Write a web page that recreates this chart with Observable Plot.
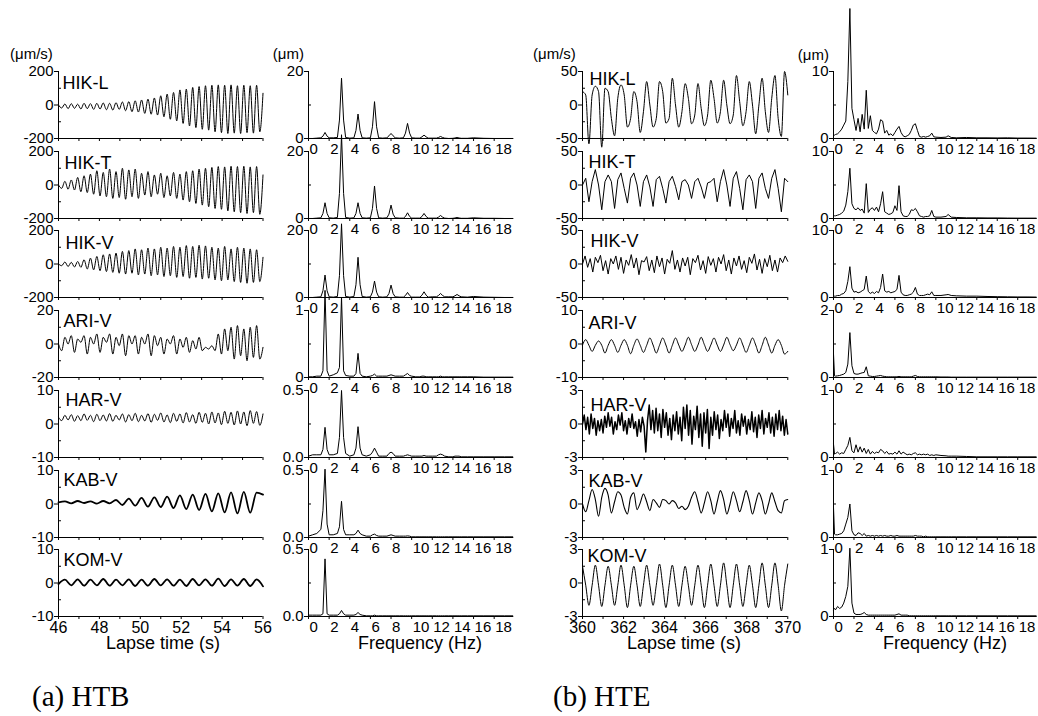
<!DOCTYPE html>
<html><head><meta charset="utf-8">
<script src="https://cdn.jsdelivr.net/npm/d3@7"></script>
<script src="https://cdn.jsdelivr.net/npm/@observablehq/plot@0.6"></script>
<style>
body{margin:0;background:#fff;}
#fig{position:relative;width:1038px;height:716px;background:#fff;overflow:hidden;color:#000;font-family:"Liberation Sans",Arial,Helvetica,sans-serif}
#fig .t{position:absolute;white-space:nowrap;line-height:1}
</style></head>
<body><div id="fig"></div>
<script>
// ---------------- DATA ----------------
const stations = ["HIK-L","HIK-T","HIK-V","ARI-V","HAR-V","KAB-V","KOM-V"];

const htbTimeDomain = [46, 56];
const hteTimeDomain = [360, 370];
const htbTimeTicks = [46,47,48,49,50,51,52,53,54,55,56];
const htbTimeLabels = [46,48,50,52,54,56];
const hteTimeTicks = [360,361,362,363,364,365,366,367,368,369,370];
const hteTimeLabels = [360,362,364,366,368,370];
const freqDomain = [0, 19.9];
const freqTicks = [0,2,4,6,8,10,12,14,16,18];

// waveform y ranges and tick labels
const htbWaveRange = [[-200,200],[-200,200],[-200,200],[-20,20],[-10,10],[-10,10],[-10,10]];
const htbWaveTickLabels = [["200","0","-200"],["200","0","-200"],["200","0","-200"],["20","0","-20"],["10","0","-10"],["10","0","-10"],["10","0","-10"]];
const hteWaveRange = [[-50,50],[-50,50],[-50,50],[-10,10],[-3,3],[-3,3],[-3,3]];
const hteWaveTickLabels = [["50","0","-50"],["50","0","-50"],["50","0","-50"],["10","0","-10"],["3","0","-3"],["3","0","-3"],["3","0","-3"]];
// spectrum y tops and tick labels
const htbSpecTop = [20,20,20,1,0.5,0.5,0.5];
const htbSpecTickLabels = [["20","0"],["20","0"],["20","0"],["1","0"],["0.5","0.0"],["0.5","0.0"],["0.5","0.0"]];
const hteSpecTop = [10,10,10,2,1,1,1];
const hteSpecTickLabels = [["10","0"],["10","0"],["10","0"],["2","0"],["1","0"],["1","0"],["1","0"]];

// ---- HTB waveforms (µm/s), evenly sampled over 46–56 s ----
const htbWaveHIKL = [0,-18,6,-22,8,-20,5,-24,10,-22, 8,-26,10,-24,12,-28,10,-30,14,-26, 18,-34,20,-40,25,-42,30,-50,35,-55, 42,-60,55,-70,65,-85,75,-95,90,-110, 95,-125,105,-135,110,-145,115,-150,118,-160, 120,-165,118,-170,120,-168,115,-170,118,-165, 115,-168,118,-160,70];
const htbWaveHIKT = [0,-20,22,-25,30,-30,45,-40,55,-45, 65,-55,85,-65,75,-70,95,-80,80,-75, 100,-85,90,-70,95,-80,70,-60,80,-70, 60,-55,70,-75,55,-65,75,-80,65,-90, 80,-100,85,-110,95,-120,100,-130,105,-140, 110,-145,108,-155,112,-160,110,-165,112,-170, 108,-165,110,-175,60];
const htbWaveHIKV = [0,-10,12,-15,10,-18,15,-20,25,-30, 35,-35,45,-40,55,-45,60,-50,65,-55, 75,-60,80,-55,90,-65,85,-60,95,-70, 90,-65,100,-75,95,-70,105,-80,100,-75, 110,-85,105,-80,112,-90,108,-85,100,-95, 95,-100,105,-95,90,-105,100,-110,95,-115, 90,-110,85,-105,40];
const htbWaveARIV = [0,-4,4,0,5,-5,3,1,5,-6, 4,0,6,-5,4,1,6,-6,4,-1, 6,-7,5,0,5,-6,4,0,6,-7, 5,-1,4,-6,3,0,5,-6,3,-2, 4,-5,2,-3,4,-4,-2,-3,-1,-4, 6,-6,9,-4,10,-9,11,-7,9,-10, 10,-8,11,-9,-2];
const htbWaveHARV = [2,1,2.6,1.2,2.8,0.8,2.5,1.0,3.0,1.1, 2.6,0.7,2.9,1.0,2.7,0.9,3.1,0.8,2.6,1.2, 3.0,0.6,2.8,1.0,3.2,0.7,2.6,0.9,3.1,0.5, 2.9,1.1,3.3,0.6,2.7,0.4,3.2,0.8,3.0,0.3, 3.4,0.6,2.8,0.2,3.5,0.5,3.2,0.0,3.6,0.3, 3.3,-0.2,3.8,0.2,3.5,-0.3,3.9,0.0,3.6,-0.5, 4.0,0.2,3.7,-0.4,3.0];
const htbWaveKABV = [0.5,0.8,0.2,0.9,0.3,0.8,0.1,0.9,0.2,1.2, -0.3,1.6,-0.5,1.8,-0.8,2.0,-0.9,2.2,-1.2,2.6, -1.5,2.8,-1.8,3.0,-2.2,3.2,-2.5,3.5,-2.8,3.6, -2.6,3.4,2.8];
const htbWaveKOMV = [-0.3,1.0,-0.7,1.1,-0.8,1.0,-0.7,1.2,-0.8,1.0, -0.7,1.1,-0.9,1.0,-0.8,1.2,-0.7,1.1,-0.8,1.0, -0.9,1.2,-0.7,1.1,-0.8,1.3,-0.9,1.1,-0.8,1.2, -0.9,1.1,-1.0];

// ---- HTE waveforms (µm/s), evenly sampled over 360–370 s ----
const hteWaveHIKL = [20,15,-58,15,28,20,-63,25,20,-20, -46,10,30,15,-33,-20,20,5,-41,-10, 35,0,-33,-20,35,20,-27,-20,40,0, -33,-10,32,10,-28,-15,32,-5,-31,-15, 37,10,-27,-10,37,0,-28,-15,44,5, -31,-10,35,0,-43,0,40,-10,-41,10, 44,-20,-47,50,15];
const hteWaveHIKT = [0,10,-25,5,23,0,-37,5,15,5, -35,8,18,-5,-27,10,18,0,-32,5, 15,-3,-32,8,13,-5,-27,5,13,-2, -22,5,8,0,-20,5,10,-3,-20,3, 5,10,-25,5,23,0,-32,10,20,-5, -37,8,15,5,-35,10,18,-5,-20,10, 23,-5,-40,10,5];
const hteWaveHIKV = [0,12,-5,8,-12,10,2,13,-10,5, -15,8,0,12,-8,10,-14,6,-2,14, -6,9,-16,5,3,11,-10,6,-13,12, -4,9,-15,7,1,20,-8,6,-12,9, -3,10,-16,8,2,13,-9,5,-14,11, -2,8,-12,10,0,14,-10,6,-15,9, -3,12,-8,5,-13,10,1,15,-9,7, -14,8,-4,13,-10,6,-12,9,2,12, 4];
const hteWaveARIV = [-0.3, 1.3,-0.4,-2.2,-0.4, 0.9,-0.4,-2.7,-0.4, 1.3,-0.4,-2.5,-0.4, 1.3,-0.4,-2.9,-0.4, 1.5,-0.4,-2.5,-0.4, 1.8,-0.3,-2.7,-0.4, 1.8,-0.3,-2.7,-0.4, 1.8,-0.3,-2.2,-0.3, 2.0,-0.2,-2.2,-0.3, 2.0,-0.2,-2.2,-0.3, 1.8,-0.3,-2.2,-0.3, 2.0,-0.2,-2.0,-0.3, 1.8,-0.3,-2.5,-0.4, 1.8,-0.3,-2.7,-0.4, 2.0,-0.3,-2.7,-0.4, 1.3,-0.4,-3.0,-2.2];
const hteWaveHARV = [0,0.8,-0.5,0.6,-0.9,0.9,-0.4,0.5,-1.0,0.3,-0.6,0.4,-0.8, 0.7,-0.3,1.0,-0.2,0.6,-0.9,0.2,-0.5,0.8,-0.1,1.0,-0.6, 0.3,-0.9,0.5,-0.3,0.9,-0.4,0.2,-1.1,0.4,-0.7,0.6,-0.2, -2.5,0.3,1.7,-0.5,1.2,-0.8,1.4,-0.6,0.9,-1.2,1.3,-0.3, 1.0,-1.0,0.5,-1.4,0.8,-0.6,1.1,-0.9,0.6,-1.5,1.5,-0.4, 1.7,-1.0,1.2,-1.8,0.7,-0.5,1.6,-1.2,0.9,-2.0,1.0,-0.8, 1.3,-2.2,0.6,-1.0,1.1,-0.5,0.8,-1.3,0.4,-0.6,1.2,-0.3, 0.9,-1.1,0.5,-0.4,1.2,-0.8,0.3,-1.0,0.9,-0.2,0.7,-0.9, 0.4,-0.5,1.1,-0.7,0.6,-1.2,0.8,-0.4,1.2,-0.9,0.5,-0.3, 1.0,-0.8,0.6,-1.1,0.9,-0.5,1.2,-0.6,0.7,-1.0,0.4,-0.9];
const hteWaveKABV = [0,-0.7,0.3,1.3,0.4,-1.1,0.6,1.4,0.8,-0.8, 0.2,1.1,0.8,-0.3,-0.9,0.6,1.0,-0.5,0.1,0.9, 0.2,-0.6,0.4,0.1,-0.3,0.4,0.3,0.0,0.3,0.1, -0.4,-0.2,-0.5,-0.2,0.6,1.1,0.2,-0.8,0.1,1.1, 0.3,-0.9,0.2,1.2,0.4,-0.9,0.0,1.1,0.3,-0.7, 0.2,1.2,0.3,-0.9,0.1,1.0,0.3,-0.9,0.0,1.0, 0.2,-0.6,-0.8,0.3,0.4];
const hteWaveKOMV = [1.5,-0.2,-2.0,-0.2, 1.6,-0.2,-2.1,-0.2, 1.5,-0.2,-2.0,-0.2, 1.6,-0.2,-2.2,-0.2, 1.5,-0.2,-2.1,-0.2, 1.6,-0.2,-2.0,-0.2, 1.7,-0.2,-2.2,-0.2, 1.6,-0.2,-2.1,-0.2, 1.5,-0.2,-2.0,-0.2, 1.6,-0.2,-2.2,-0.2, 1.7,-0.2,-2.1,-0.2, 1.8,-0.2,-2.2,-0.2, 1.7,-0.2,-2.1,-0.2, 1.6,-0.2,-2.2,-0.2, 1.8,-0.2,-2.2,-0.2, 1.8,-0.2,-2.5,-0.2, 1.7];

// ---- HTB spectra (µm) ----
const htbFreq = [0,0.4,0.8, 1.2,1.4,1.6,1.8,2.0, 2.4, 2.8,3.0,3.2,3.4,3.6, 4.0, 4.4,4.6,4.8,5.0,5.2, 5.6, 6.0,6.2,6.4,6.6,6.8, 7.2, 7.6,7.8,8.0,8.2,8.4, 8.8, 9.2,9.4,9.6,9.8,10.0, 10.4, 10.8,11.0,11.2,11.4,11.6, 12.0, 12.4,12.6,12.8,13.0,13.2, 13.6, 14.0,14.2,14.4,14.6,14.8, 15.4,16.0,17.0,18.0,19.0,19.8];
const htbSpecHIKL = [0,0,0.1, 0.2,0.7,1.8,0.7,0.2, 0.2, 0.3,5.5,18,5.5,0.3, 0.1, 0.2,2.4,7.3,2.4,0.2, 0.1, 0.2,3.5,11,3.5,0.2, 0.1, 0.2,0.8,1.5,0.8,0.2, 0.1, 0.2,1.6,4.5,1.6,0.2, 0.1, 0.1,0.5,1.0,0.5,0.1, 0.1, 0.1,0.3,0.6,0.3,0.1, 0, 0.05,0.15,0.3,0.15,0.05, 0.05,0.2,0.05,0,0,0];
const htbSpecHIKT = [0,0,0.1, 0.2,1.5,4.7,1.5,0.2, 0.1, 0.3,7.5,25,7.5,0.3, 0.1, 0.2,1.5,4.7,1.5,0.2, 0.1, 0.2,3.0,9.7,3.0,0.2, 0.1, 0.2,1.3,4.0,1.3,0.2, 0.1, 0.1,0.6,1.7,0.6,0.1, 0.1, 0.1,0.6,1.5,0.6,0.1, 0.1, 0.1,0.4,0.9,0.4,0.1, 0, 0.05,0.15,0.3,0.15,0.05, 0.05,0.2,0.05,0.05,0,0];
const htbSpecHIKV = [0,0,0.1, 0.2,2.0,6.7,2.0,0.2, 0.1, 0.3,6.5,22,6.5,0.3, 0.1, 0.3,3.8,12,3.8,0.3, 0.1, 0.2,1.6,4.9,1.6,0.2, 0.1, 0.2,1.2,3.7,1.2,0.2, 0.1, 0.1,0.6,1.5,0.6,0.1, 0.1, 0.1,0.7,1.7,0.7,0.1, 0.2, 0.2,0.6,1.2,0.6,0.2, 0.2, 0.2,0.5,0.9,0.5,0.2, 0.1,0.3,0.1,0.05,0,0];
const htbSpecARIV = [0.01,0.01,0.02, 0.02,0.1,1.3,0.1,0.02, 0.04, 0.07,0.15,1.2,0.1,0.03, 0.02, 0.02,0.06,0.36,0.06,0.02, 0.01, 0.02,0.03,0.05,0.02,0.02, 0.02, 0.02,0.03,0.04,0.03,0.02, 0.02, 0.02,0.04,0.06,0.03,0.02, 0.01, 0.01,0.02,0.02,0.01,0.01, 0.01, 0.01,0.01,0.02,0.01,0.01, 0.01, 0.01,0.01,0.01,0.01,0.01, 0.01,0.01,0.005,0.005,0.005,0.005];
const htbSpecHARV = [0.01,0.02,0.02, 0.02,0.06,0.225,0.06,0.02, 0.02, 0.03,0.15,0.5,0.15,0.03, 0.01, 0.02,0.07,0.23,0.07,0.02, 0.01, 0.02,0.04,0.07,0.04,0.01, 0.01, 0.01,0.03,0.04,0.03,0.01, 0.01, 0.01,0.015,0.02,0.015,0.01, 0.01, 0.01,0.01,0.015,0.01,0.01, 0.01, 0.01,0.02,0.025,0.02,0.01, 0.005, 0.005,0.01,0.01,0.01,0.005, 0.005,0.005,0.005,0.005,0.005,0.005];
const htbSpecKABV = [0.01,0.02,0.03, 0.06,0.2,0.51,0.1,0.02, 0.02, 0.03,0.08,0.27,0.06,0.02, 0.02, 0.02,0.03,0.055,0.03,0.02, 0.01, 0.01,0.02,0.025,0.015,0.01, 0.01, 0.01,0.015,0.02,0.015,0.01, 0.01, 0.01,0.01,0.012,0.01,0.005, 0.005, 0.005,0.005,0.005,0.005,0.005, 0.005, 0.005,0.005,0.005,0.005,0.005, 0.005, 0.005,0.005,0.005,0.005,0.005, 0.005,0.005,0.005,0.005,0.005,0.005];
const htbSpecKOMV = [0.01,0.01,0.01, 0.01,0.02,0.43,0.02,0.01, 0.01, 0.01,0.02,0.045,0.02,0.01, 0.01, 0.01,0.015,0.03,0.015,0.01, 0.005, 0.005,0.005,0.01,0.005,0.005, 0.005, 0.005,0.005,0.005,0.005,0.005, 0.005, 0.005,0.005,0.005,0.005,0.005, 0.005, 0.005,0.005,0.005,0.005,0.005, 0.005, 0.005,0.005,0.005,0.005,0.005, 0.005, 0.005,0.005,0.005,0.005,0.005, 0.005,0.005,0.005,0.005,0.005,0.005];

// ---- HTE spectra (µm) ----
const hteFreq = [0,0.1,0.2,0.4,0.6,0.8,1.0,1.2,1.4,1.6,1.8,2.0,2.2,2.4,2.6,2.8,3.0,3.2,3.4,3.6,3.8,4.0,4.2,4.4,4.6,4.8,5.0,5.2,5.4,5.6,5.8,6.0,6.2,6.4,6.6,6.8,7.0,7.2,7.4,7.6,7.8,8.0,8.2,8.4,8.6,8.8,9.0,9.2,9.4,9.6,9.8,10.0,10.5,11.0,11.2,11.5,12,13,14,15,16,17,18,19,19.8];
const hteSpecHIKL = [0.5,0.5,0.6,0.7,1.0,1.4,2.0,2.6,8.5,19.4, 4.5,2.8,1.2,3.0,1.0,3.6,1.4,7.2,1.5,3.4, 1.2,0.9,0.7,1.4,2.8,2.6,0.8,1.2,0.5,0.7, 0.4,0.9,1.4,1.8,0.9,0.4,0.25,0.4,0.6,1.2, 2.0,2.2,1.2,0.3,0.2,0.3,0.2,0.3,0.4,0.8, 0.25,0.2,0.15,0.2,0.4,0.15,0.1,0.15,0.1,0.1, 0.08,0.1,0.06,0.06,0.05];
const hteSpecHIKT = [0.4,0.4,0.4,0.5,0.6,0.8,1.1,2.0,4.0,7.5, 2.2,1.5,1.3,1.6,1.2,1.4,0.8,5.2,0.9,1.4, 1.6,1.2,1.7,1.0,2.2,4.0,1.0,0.8,0.6,0.7, 0.9,1.9,1.2,4.9,1.0,0.4,0.3,0.3,0.6,1.3, 1.2,1.5,1.0,0.4,0.3,0.2,0.3,0.3,0.4,1.2, 0.3,0.2,0.2,0.3,0.6,0.2,0.15,0.1,0.1,0.08, 0.08,0.06,0.05,0.05,0.05];
const hteSpecHIKV = [0.2,0.2,0.2,0.3,0.3,0.5,0.6,1.0,2.4,4.6, 1.4,0.8,0.9,0.7,0.8,1.0,1.2,3.2,0.9,0.6, 0.8,0.6,0.9,0.7,1.5,3.5,1.0,0.8,0.9,0.7, 0.8,0.9,1.2,3.3,0.8,0.4,0.3,0.3,0.4,0.5, 0.8,1.5,0.5,0.3,0.3,0.3,0.4,0.5,0.4,0.85, 0.3,0.3,0.3,0.4,0.45,0.3,0.25,0.2,0.2,0.15, 0.12,0.1,0.08,0.08,0.06];
const hteSpecARIV = [0.7,0.05,0.04,0.05,0.06,0.08,0.1,0.15,0.4,1.34, 0.35,0.12,0.1,0.1,0.12,0.14,0.15,0.32,0.05,0.04, 0.03,0.03,0.04,0.05,0.06,0.04,0.03,0.02,0.02,0.02, 0.02,0.02,0.02,0.03,0.02,0.02,0.02,0.02,0.02,0.02, 0.04,0.06,0.03,0.02,0.02,0.02,0.02,0.02,0.02,0.02, 0.02,0.02,0.015,0.015,0.015,0.01,0.01,0.01,0.01,0.01, 0.01,0.01,0.01,0.01,0.01];
const hteSpecHARV = [0.2,0.05,0.06,0.08,0.05,0.07,0.06,0.12,0.18,0.3, 0.1,0.07,0.19,0.08,0.16,0.08,0.14,0.06,0.12,0.05, 0.09,0.06,0.08,0.07,0.12,0.1,0.06,0.09,0.05,0.06, 0.05,0.08,0.05,0.1,0.05,0.08,0.06,0.04,0.05,0.04, 0.06,0.07,0.04,0.05,0.04,0.05,0.04,0.05,0.03,0.04, 0.03,0.04,0.03,0.025,0.02,0.02,0.02,0.015,0.01,0.01, 0.01,0.01,0.01,0.01,0.01];
const hteSpecKABV = [0.45,0.05,0.04,0.04,0.05,0.06,0.1,0.2,0.3,0.5, 0.1,0.04,0.03,0.07,0.06,0.03,0.06,0.02,0.03,0.02, 0.03,0.02,0.03,0.02,0.03,0.02,0.03,0.02,0.02,0.03, 0.02,0.02,0.03,0.02,0.02,0.02,0.02,0.02,0.02,0.02, 0.02,0.03,0.02,0.02,0.02,0.01,0.02,0.01,0.01,0.01, 0.01,0.01,0.01,0.01,0.01,0.01,0.01,0.01,0.01,0.01, 0.01,0.01,0.01,0.01,0.01];
const hteSpecKOMV = [0.1,0.12,0.1,0.15,0.12,0.14,0.2,0.3,0.45,1.02, 0.2,0.05,0.03,0.03,0.03,0.04,0.06,0.03,0.02,0.02, 0.02,0.02,0.02,0.02,0.02,0.02,0.02,0.02,0.02,0.02, 0.02,0.02,0.03,0.04,0.02,0.02,0.02,0.02,0.01,0.01, 0.01,0.01,0.01,0.01,0.01,0.01,0.01,0.01,0.01,0.01, 0.01,0.01,0.01,0.01,0.01,0.01,0.01,0.01,0.01,0.01, 0.01,0.01,0.01,0.01,0.01];

const htbWaves = [htbWaveHIKL, htbWaveHIKT, htbWaveHIKV, htbWaveARIV, htbWaveHARV, htbWaveKABV, htbWaveKOMV];
const hteWaves = [hteWaveHIKL, hteWaveHIKT, hteWaveHIKV, hteWaveARIV, hteWaveHARV, hteWaveKABV, hteWaveKOMV];
const htbSpecs = [htbSpecHIKL, htbSpecHIKT, htbSpecHIKV, htbSpecARIV, htbSpecHARV, htbSpecKABV, htbSpecKOMV];
const hteSpecs = [hteSpecHIKL, hteSpecHIKT, hteSpecHIKV, hteSpecARIV, hteSpecHARV, hteSpecKABV, hteSpecKOMV];

// ---------------- LAYOUT / STYLE ----------------
const rowBottom = [138, 217.7, 297.4, 377.1, 456.8, 536.5, 616.2];
const plotH = 67;
const cols = [{l:57.5, r:262}, {l:307.7, r:513}, {l:581.7, r:787}, {l:833.3, r:1037}];
const htbLabelOff = [[4,5],[6,5],[7,6],[5,4],[7,3],[5,3],[5,4]];
const hteLabelOff = [[7,1],[6,4],[8,4],[6,6],[8,8],[6,4],[5,0]];
const htbWaveSW = [1,1,1,1,1,1.8,1.8];
const hteWaveSW = [1,1,1,1,1.5,1.1,1];
const htbWaveCurve = ["monotone-x","monotone-x","monotone-x","monotone-x","monotone-x","monotone-x","monotone-x"];
const hteWaveCurve = ["monotone-x","linear","linear","monotone-x","linear","monotone-x","monotone-x"];
const FONT = '"Liberation Sans", Arial, Helvetica, sans-serif';
const ML = 46, MR = 6, MT = 6, MB = 26;
const fig = document.getElementById("fig");

function addPanel(o) {
  const w = o.right - o.left, h = o.bottom - o.top;
  const [x0, x1] = o.xDomain, [y0, y1] = o.yDomain;
  const px = (x1 - x0) / w;
  const yMap = new Map(o.yTicks.map((v, i) => [v, o.yTickLabels[i]]));
  const marks = [
    Plot.ruleX([x0], {stroke: "#000", strokeWidth: 1}),
    Plot.ruleY([y0], {stroke: "#000", strokeWidth: 1}),
    Plot.axisY({ticks: o.yTicks, tickSize: 4, tickPadding: 1, tickFormat: d => yMap.get(d), fontSize: 15, label: null}),
    Plot.ruleY(o.yMinor, {x1: () => x0, x2: () => x0 + 3 * px, stroke: "#000"}),
    Plot.axisX({ticks: o.xTicks, tickSize: 3, tickFormat: () => "", label: null}),
    Plot.line(o.data, {x: "x", y: "y", stroke: "#000", strokeWidth: o.sw, curve: o.curve, strokeLinejoin: "round"}),
    Plot.text([o.label], {frameAnchor: "top-left", dx: o.ldx, dy: o.ldy, lineAnchor: "top", textAnchor: "start", fontSize: 18, fill: "#000"})
  ];
  if (o.xLabels) {
    marks.push(Plot.text(o.xLabels, {x: d => d, y: () => y0, text: d => String(d), lineAnchor: "top", textAnchor: o.xAnchor, dx: o.xdx, dy: o.xdy, fontSize: o.xfs, fill: "#000"}));
  }
  const svg = Plot.plot({
    width: w + ML + MR, height: h + MT + MB,
    marginLeft: ML, marginRight: MR, marginTop: MT, marginBottom: MB,
    x: {domain: o.xDomain}, y: {domain: o.yDomain},
    style: {background: "transparent", overflow: "visible", fontFamily: FONT, fontSize: "15px", color: "#000", maxWidth: "none"},
    marks
  });
  svg.style.position = "absolute";
  svg.style.left = (o.left - ML) + "px";
  svg.style.top = (o.top - MT) + "px";
  fig.appendChild(svg);
}

function waveData(vals, dom) {
  const n = vals.length;
  return vals.map((v, i) => ({x: dom[0] + i * (dom[1] - dom[0]) / (n - 1), y: v}));
}
function specData(freqs, amps) {
  return freqs.map((f, i) => ({x: f, y: amps[i]}));
}

for (let k = 0; k < 7; k++) {
  const bottom = rowBottom[k], top = bottom - plotH;
  const last = k === 6;
  // HTB waveform
  let r = htbWaveRange[k];
  addPanel({left: cols[0].l, right: cols[0].r, top, bottom, xDomain: htbTimeDomain, yDomain: r,
    yTicks: [r[1], 0, r[0]], yTickLabels: htbWaveTickLabels[k], yMinor: [r[1] / 2, r[0] / 2],
    xTicks: htbTimeTicks, xLabels: last ? htbTimeLabels : null, xAnchor: "middle", xdx: 0, xdy: 5, xfs: 16,
    data: waveData(htbWaves[k], htbTimeDomain), sw: htbWaveSW[k], curve: htbWaveCurve[k],
    label: stations[k], ldx: htbLabelOff[k][0], ldy: htbLabelOff[k][1]});
  // HTB spectrum
  let t = htbSpecTop[k];
  addPanel({left: cols[1].l, right: cols[1].r, top, bottom, xDomain: freqDomain, yDomain: [0, t],
    yTicks: [t, 0], yTickLabels: htbSpecTickLabels[k], yMinor: [t / 2],
    xTicks: freqTicks, xLabels: freqTicks, xAnchor: "start", xdx: 1, xdy: 5, xfs: 15,
    data: specData(htbFreq, htbSpecs[k]), sw: 1, curve: "linear", label: "", ldx: 0, ldy: 0});
  // HTE waveform
  r = hteWaveRange[k];
  addPanel({left: cols[2].l, right: cols[2].r, top, bottom, xDomain: hteTimeDomain, yDomain: r,
    yTicks: [r[1], 0, r[0]], yTickLabels: hteWaveTickLabels[k], yMinor: [r[1] / 2, r[0] / 2],
    xTicks: hteTimeTicks, xLabels: last ? hteTimeLabels : null, xAnchor: "middle", xdx: 0, xdy: 5, xfs: 16,
    data: waveData(hteWaves[k], hteTimeDomain), sw: hteWaveSW[k], curve: hteWaveCurve[k],
    label: stations[k], ldx: hteLabelOff[k][0], ldy: hteLabelOff[k][1]});
  // HTE spectrum
  t = hteSpecTop[k];
  addPanel({left: cols[3].l, right: cols[3].r, top, bottom, xDomain: freqDomain, yDomain: [0, t],
    yTicks: [t, 0], yTickLabels: hteSpecTickLabels[k], yMinor: [t / 2],
    xTicks: freqTicks, xLabels: freqTicks, xAnchor: "start", xdx: 1, xdy: 5, xfs: 15,
    data: specData(hteFreq, hteSpecs[k]), sw: 1, curve: "linear", label: "", ldx: 0, ldy: 0});
}

function addText(str, x, y, size, family, anchor) {
  const d = document.createElement("div");
  d.className = "t";
  d.textContent = str;
  d.style.fontSize = size + "px";
  d.style.fontFamily = family;
  d.style.left = x + "px";
  d.style.top = y + "px";
  if (anchor === "middle") d.style.transform = "translateX(-50%)";
  if (anchor === "end") d.style.transform = "translateX(-100%)";
  fig.appendChild(d);
}
const SERIF = '"Liberation Serif", "Times New Roman", serif';
addText("(\u03bcm/s)", 10, 46, 15, FONT, "start");
addText("(\u03bcm)", 304, 46, 15, FONT, "end");
addText("(\u03bcm/s)", 533, 46, 15, FONT, "start");
addText("(\u03bcm)", 829, 47, 15, FONT, "end");
addText("Lapse time (s)", 163, 634, 18, FONT, "middle");
addText("Frequency (Hz)", 420, 634, 18, FONT, "middle");
addText("Lapse time (s)", 684, 634, 18, FONT, "middle");
addText("Frequency (Hz)", 945, 634, 18, FONT, "middle");
addText("(a) HTB", 32, 682, 29, SERIF, "start");
addText("(b) HTE", 553, 682, 29, SERIF, "start");
</script>
</body></html>
